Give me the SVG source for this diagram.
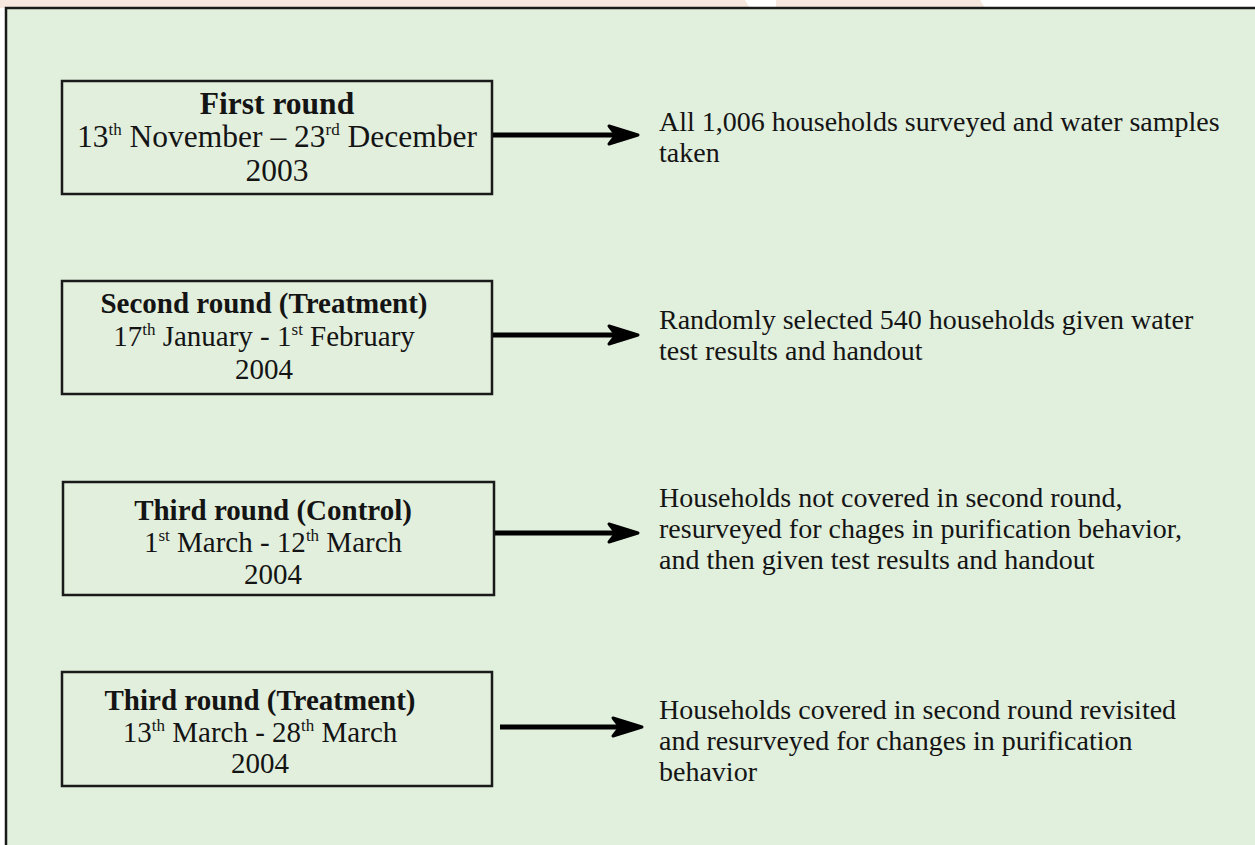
<svg xmlns="http://www.w3.org/2000/svg" width="1255" height="845" viewBox="0 0 1255 845">
<style>
.box{fill:#e2efdd;stroke:#1a1a1a;stroke-width:2.5}
.t{font-family:"Liberation Serif","Times New Roman",serif;font-size:29px;fill:#141414}
.r{font-size:28px}
.big{font-size:31.5px}
.c{text-anchor:middle}
.b{font-weight:bold}
.sup{font-size:17px}
.arr{stroke:#000;stroke-width:5;fill:none}
</style>
<defs>
<marker id="ah" markerUnits="userSpaceOnUse" viewBox="0 0 34 22" refX="22" refY="11" markerWidth="34" markerHeight="22" orient="auto">
<path d="M3,2 L32,11 L3,20 L10,11 Z" fill="#000" stroke="#000" stroke-width="3" stroke-linejoin="round"/>
</marker>
</defs>
<rect x="0" y="0" width="1255" height="845" fill="#ffffff"/>
<polygon points="0,0 745,0 750,8 0,8" fill="#f7e8df"/>
<polygon points="776,0 980,0 985,8 776,8" fill="#f7e8df"/>
<rect x="6" y="8" width="1260" height="850" fill="#e1efdd" stroke="#1a1a1a" stroke-width="2.5"/>

<g id="node1">
<rect class="box" x="62" y="81" width="430" height="113"/>
<text class="t c b big" x="277" y="114">First round</text>
<text class="t c big" x="277" y="147">13<tspan class="sup" dy="-12">th</tspan><tspan dy="12"> November – 23</tspan><tspan class="sup" dy="-12">rd</tspan><tspan dy="12"> December</tspan></text>
<text class="t c big" x="277" y="181">2003</text>
</g>
<g id="node2">
<rect class="box" x="62" y="281" width="430" height="113"/>
<text class="t c b" x="264" y="313">Second round (Treatment)</text>
<text class="t c" x="264" y="346">17<tspan class="sup" dy="-11">th</tspan><tspan dy="11"> January - 1</tspan><tspan class="sup" dy="-11">st</tspan><tspan dy="11"> February</tspan></text>
<text class="t c" x="264" y="379">2004</text>
</g>
<g id="node3">
<rect class="box" x="63" y="482" width="431" height="113"/>
<text class="t c b" x="273" y="520">Third round (Control)</text>
<text class="t c" x="273" y="552">1<tspan class="sup" dy="-11">st</tspan><tspan dy="11"> March - 12</tspan><tspan class="sup" dy="-11">th</tspan><tspan dy="11"> March</tspan></text>
<text class="t c" x="273" y="584">2004</text>
</g>
<g id="node4">
<rect class="box" x="62" y="672" width="430" height="114"/>
<text class="t c b" x="260" y="710">Third round (Treatment)</text>
<text class="t c" x="260" y="742">13<tspan class="sup" dy="-11">th</tspan><tspan dy="11"> March - 28</tspan><tspan class="sup" dy="-11">th</tspan><tspan dy="11"> March</tspan></text>
<text class="t c" x="260" y="773">2004</text>
</g>

<g id="desc1">
<text class="t r" x="659" y="131">All 1,006 households surveyed and water samples</text>
<text class="t r" x="659" y="162">taken</text>
</g>
<g id="desc2">
<text class="t r" x="659" y="329">Randomly selected 540 households given water</text>
<text class="t r" x="659" y="360">test results and handout</text>
</g>
<g id="desc3">
<text class="t r" x="659" y="507">Households not covered in second round,</text>
<text class="t r" x="659" y="538">resurveyed for chages in purification behavior,</text>
<text class="t r" x="659" y="569">and then given test results and handout</text>
</g>
<g id="desc4">
<text class="t r" x="659" y="719">Households covered in second round revisited</text>
<text class="t r" x="659" y="750">and resurveyed for changes in purification</text>
<text class="t r" x="659" y="781">behavior</text>
</g>

<g id="connectors">
<line class="arr" x1="493" y1="135" x2="628" y2="135" marker-end="url(#ah)"/>
<line class="arr" x1="493" y1="335" x2="628" y2="335" marker-end="url(#ah)"/>
<line class="arr" x1="495" y1="533" x2="628" y2="533" marker-end="url(#ah)"/>
<line class="arr" x1="500" y1="727" x2="632" y2="727" marker-end="url(#ah)"/>
</g>
</svg>
